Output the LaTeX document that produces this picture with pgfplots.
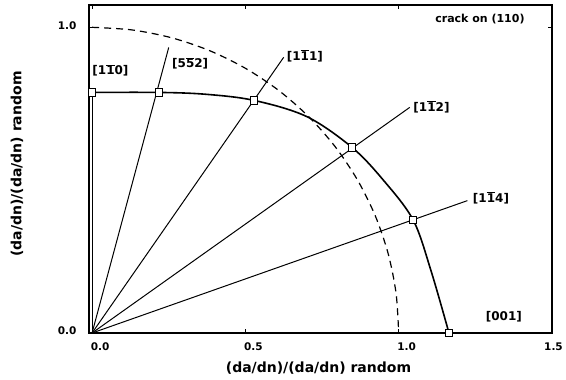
\documentclass[border=0pt]{standalone}
\usepackage{fontspec}
\setmainfont{DejaVu Sans}
\usepackage{pgfplots}
\pgfplotsset{compat=1.18}
\newcommand\ob[1]{$\overline{\mbox{#1}}$}
\begin{document}
\begin{tikzpicture}
\begin{axis}[name=ax, scale only axis, width=463pt, height=328pt,
  xmin=-0.01, xmax=1.5, ymin=0, ymax=1.073,
  clip=false,
  axis line style={line width=1.4pt},
  xtick={0,0.5,1,1.5}, xticklabels={0.0,0.5,1.0,\hspace*{-13pt}1.5},
  ytick={0,1}, yticklabels={0.0,1.0},
  tick align=inside, major tick length=4pt,
  tick style={line width=1pt, black},
  ticklabel style={font=\bfseries\fontsize{10.5}{12}\selectfont},
  xticklabel style={xshift=8pt, yshift=-6pt},
  yticklabel style={xshift=-9pt, yshift=2pt},
]
% unit circle (dashed reference)
\addplot[black, line width=1.2pt, dash pattern=on 7pt off 5pt, smooth] coordinates {
(0,1) (0.1305,0.9914) (0.2588,0.9659) (0.3827,0.9239) (0.5,0.8660) (0.6088,0.7934)
(0.7071,0.7071) (0.7934,0.6088) (0.8660,0.5) (0.9239,0.3827) (0.9659,0.2588)
(0.9914,0.1305) (1,0)};
% radial directions
\addplot[black, line width=1pt] coordinates {(0,0) (0,0.787)};
\addplot[black, line width=1pt] coordinates {(0,0) (0.25,0.934)};
\addplot[black, line width=1pt] coordinates {(0,0) (0.625,0.902)};
\addplot[black, line width=1pt] coordinates {(0,0) (1.036,0.738)};
\addplot[black, line width=1pt] coordinates {(0,0) (1.224,0.433)};
% measured curve
\addplot[black, line width=1.6pt, smooth, tension=0.55] coordinates {
(0,0.787) (0.2185,0.787) (0.37,0.781) (0.528,0.761) (0.70,0.708) (0.848,0.607)
(0.95,0.50) (1.047,0.370) (1.105,0.205) (1.164,0)};
% markers
\addplot[only marks, mark=square*, mark size=3.8pt,
  mark options={fill=white, draw=black, line width=1.1pt}] coordinates {
(0,0.787) (0.2185,0.787) (0.528,0.761) (0.848,0.607) (1.047,0.370) (1.164,0)};
% labels
\begin{scope}[every node/.style={font=\bfseries\fontsize{12}{14}\selectfont, inner sep=0pt}]
\node at (axis cs:0.06,0.859) {[1\ob{1}0]};
\node at (axis cs:0.32,0.882) {[5\ob{5}2]};
\node at (axis cs:0.694,0.908) {[1\ob{1}1]};
\node at (axis cs:1.107,0.741) {[1\ob{1}2]};
\node at (axis cs:1.301,0.443) {[1\ob{1}4]};
\node at (axis cs:1.343,0.052) {[001]};
\end{scope}
\node[font=\bfseries\fontsize{11}{13}\selectfont, inner sep=0pt] at (axis cs:1.265,1.027) {crack on (110)};
\end{axis}
\node[font=\bfseries\fontsize{14}{16}\selectfont, inner sep=0pt] at ([xshift=-2pt, yshift=-35pt]ax.south) {(da/dn)/(da/dn) random};
\node[font=\bfseries\fontsize{14}{16}\selectfont, inner sep=0pt, rotate=90] at ([xshift=-72pt, yshift=5pt]ax.west) {(da/dn)/(da/dn) random};
\pgfresetboundingbox
\path ([xshift=-89pt,yshift=-47pt]ax.south west) rectangle ([xshift=477pt,yshift=333pt]ax.south west);
\end{tikzpicture}
\end{document}
